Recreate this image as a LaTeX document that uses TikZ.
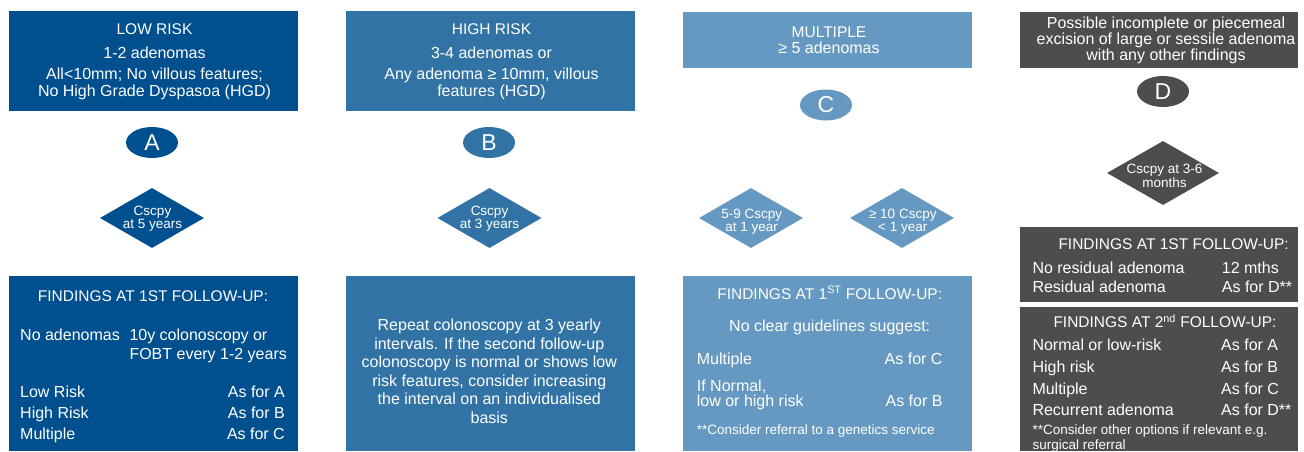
\documentclass[tikz,border=0pt]{standalone}
\usepackage{fontspec}
\setmainfont{Liberation Sans}
\usetikzlibrary{shapes.geometric}
\definecolor{cA}{RGB}{0,79,143}
\definecolor{cB}{RGB}{50,115,166}
\definecolor{cC}{RGB}{102,153,193}
\definecolor{cD}{RGB}{77,77,77}
\begin{document}
\begin{tikzpicture}[x=1pt,y=-1pt,
  panel/.style={rectangle, inner sep=0pt, outer sep=0pt, draw=none, anchor=north west},
  tx/.style={text=white, inner sep=0pt, font=\fontsize{16}{16}\selectfont},
  captxt/.style={text=white, inner sep=0pt, font=\fontsize{15.5}{16}\selectfont},
  sm/.style={text=white, inner sep=0pt, font=\fontsize{13.5}{14}\selectfont},
  dt/.style={text=white, inner sep=0pt, font=\fontsize{13.5}{13.5}\selectfont},
  lett/.style={ellipse, inner sep=0pt, minimum width=52pt, minimum height=31pt, text=white, font=\fontsize{23}{23}\selectfont},
  dia/.style={diamond, inner sep=0pt, minimum width=104pt, minimum height=60pt},
]
\useasboundingbox (0,0) rectangle (1304,452);
\fill[white] (0,0) rectangle (1304,452);

% ---------- panels ----------
\node[panel, fill=cA, minimum width=289pt, minimum height=100pt] (topA) at (9,11) {};
\node[panel, fill=cB, minimum width=289pt, minimum height=100pt] (topB) at (346,11) {};
\node[panel, fill=cC, minimum width=289pt, minimum height=56pt] (topC) at (683,12) {};
\node[panel, fill=cD, minimum width=278pt, minimum height=56pt] (topD) at (1020,12) {};
\node[panel, fill=cA, minimum width=289pt, minimum height=175pt] (botA) at (9,276) {};
\node[panel, fill=cB, minimum width=289pt, minimum height=175pt] (botB) at (346,276) {};
\node[panel, fill=cC, minimum width=289pt, minimum height=175pt] (botC) at (683,276) {};
\node[panel, fill=cD, minimum width=278pt, minimum height=75pt] (f1D) at (1020,227) {};
\node[panel, fill=cD, minimum width=278pt, minimum height=144pt] (f2D) at (1020,307) {};

% ---------- ellipses ----------
\node[lett, fill=cA] (eA) at (152,142.5) {A};
\node[lett, fill=cB] (eB) at (489,142.5) {B};
\node[lett, fill=cC] (eC) at (826,105) {C};
\node[lett, fill=cD] (eD) at (1163,91.5) {D};

% ---------- diamonds ----------
\node[dia, fill=cA] (dA) at (152,218) {};
\node[dia, fill=cB] (dB) at (489.5,218) {};
\node[dia, fill=cC] (dC1) at (751,218) {};
\node[dia, fill=cC] (dC2) at (902,218) {};
\node[dia, fill=cD, minimum width=112pt, minimum height=64pt] (dD) at (1163,173) {};

\node[dt, anchor=base] (dA1) at (152.5,215) {Cscpy};
\node[dt, anchor=base] (dA2) at (152.5,228) {at 5 years};
\node[dt, anchor=base] (dB1) at (489.5,215) {Cscpy};
\node[dt, anchor=base] (dB2) at (489.5,228) {at 3 years};
\node[dt, anchor=base] (dC11) at (751.7,218) {5-9 Cscpy};
\node[dt, anchor=base] (dC12) at (751.7,231) {at 1 year};
\node[dt, anchor=base] (dC21) at (902.8,218) {≥ 10 Cscpy};
\node[dt, anchor=base] (dC22) at (902.8,231) {< 1 year};
\node[dt, anchor=base] (dD1) at (1164.5,173.3) {Cscpy at 3-6};
\node[dt, anchor=base] (dD2) at (1164.5,187.7) {months};

% ---------- top texts ----------
\node[captxt, anchor=base] (tA1) at (154.5,35) {LOW RISK};
\node[tx, anchor=base] (tA2) at (154.5,59) {1-2 adenomas};
\node[tx, anchor=base] (tA3) at (154.5,80) {All<10mm; No villous features;};
\node[tx, anchor=base] (tA4) at (154.5,96) {No High Grade Dyspasoa (HGD)};

\node[captxt, anchor=base] (tB1) at (491.5,35) {HIGH RISK};
\node[tx, anchor=base] (tB2) at (491.5,59) {3-4 adenomas or};
\node[tx, anchor=base] (tB3) at (491.5,80) {Any adenoma ≥ 10mm, villous};
\node[tx, anchor=base] (tB4) at (491.5,96) {features (HGD)};

\node[captxt, anchor=base] (tC1) at (829,37.3) {MULTIPLE};
\node[tx, anchor=base] (tC2) at (829,53.3) {≥ 5 adenomas};

\node[tx, anchor=base] (tD1) at (1166,28.3) {Possible incomplete or piecemeal};
\node[tx, anchor=base] (tD2) at (1166,44.3) {excision of large or sessile adenoma};
\node[tx, anchor=base] (tD3) at (1166,60.3) {with any other findings};

% ---------- column A findings ----------
\node[captxt, anchor=base] (bA0) at (153,301) {FINDINGS AT 1ST FOLLOW-UP:};
\node[tx, anchor=base west] (bA1) at (20,340.7) {No adenomas};
\node[tx, anchor=base west] (bA2) at (129.3,340.7) {10y colonoscopy or};
\node[tx, anchor=base west] (bA3) at (129.3,359) {FOBT every 1-2 years};
\node[tx, anchor=base west] (bA4) at (20,397.3) {Low Risk};
\node[tx, anchor=base west] (bA5) at (20,418.3) {High Risk};
\node[tx, anchor=base west] (bA6) at (20,439.5) {Multiple};
\node[tx, anchor=base east] (bA7) at (285,397.3) {As for A};
\node[tx, anchor=base east] (bA8) at (285,418.3) {As for B};
\node[tx, anchor=base east] (bA9) at (285,439.5) {As for C};

% ---------- column B body ----------
\node[tx, anchor=base] (bB1) at (489.3,330.7) {Repeat colonoscopy at 3 yearly};
\node[tx, anchor=base] (bB2) at (489.3,349.2) {intervals. If the second follow-up};
\node[tx, anchor=base] (bB3) at (489.3,367.7) {colonoscopy is normal or shows low};
\node[tx, anchor=base] (bB4) at (489.3,386.3) {risk features, consider increasing};
\node[tx, anchor=base] (bB5) at (489.3,404.8) {the interval on an individualised};
\node[tx, anchor=base] (bB6) at (489.3,423.3) {basis};

% ---------- column C findings ----------
\node[captxt, anchor=base] (bC0) at (829.7,299) {FINDINGS AT 1\textsuperscript{ST} FOLLOW-UP:};
\node[tx, anchor=base] (bC1) at (829.7,331) {No clear guidelines suggest:};
\node[tx, anchor=base west] (bC2) at (696.7,364.7) {Multiple};
\node[tx, anchor=base east] (bC3) at (942.7,364.7) {As for C};
\node[tx, anchor=base west] (bC4) at (696.7,391) {If Normal,};
\node[tx, anchor=base west] (bC5) at (696.7,406.7) {low or high risk};
\node[tx, anchor=base east] (bC6) at (942.7,406.7) {As for B};
\node[sm, anchor=base west] (bC7) at (696.7,434) {**Consider referral to a genetics service};

% ---------- column D findings ----------
\node[captxt, anchor=base west] (fD0) at (1058.3,249.3) {FINDINGS AT 1ST FOLLOW-UP:};
\node[tx, anchor=base west] (fD1) at (1032.3,273.3) {No residual adenoma};
\node[tx, anchor=base west] (fD2) at (1221.7,273.3) {12 mths};
\node[tx, anchor=base west] (fD3) at (1032.3,292.3) {Residual adenoma};
\node[tx, anchor=base west] (fD4) at (1221.7,292.3) {As for D**};

\node[captxt, anchor=base west] (gD0) at (1053.3,327.3) {FINDINGS AT 2\textsuperscript{nd} FOLLOW-UP:};
\node[tx, anchor=base west] (gD1) at (1032.3,350) {Normal or low-risk};
\node[tx, anchor=base west] (gD2) at (1221,350) {As for A};
\node[tx, anchor=base west] (gD3) at (1032.3,372.3) {High risk};
\node[tx, anchor=base west] (gD4) at (1221,372.3) {As for B};
\node[tx, anchor=base west] (gD5) at (1032.3,394.3) {Multiple};
\node[tx, anchor=base west] (gD6) at (1221,394.3) {As for C};
\node[tx, anchor=base west] (gD7) at (1032.3,415.7) {Recurrent adenoma};
\node[tx, anchor=base west] (gD8) at (1221,415.7) {As for D**};
\node[sm, anchor=base west] (gD9) at (1032.3,434.5) {**Consider other options if relevant e.g.};
\node[sm, anchor=base west] (gD10) at (1032.3,449.5) {surgical referral};
\end{tikzpicture}
\end{document}
